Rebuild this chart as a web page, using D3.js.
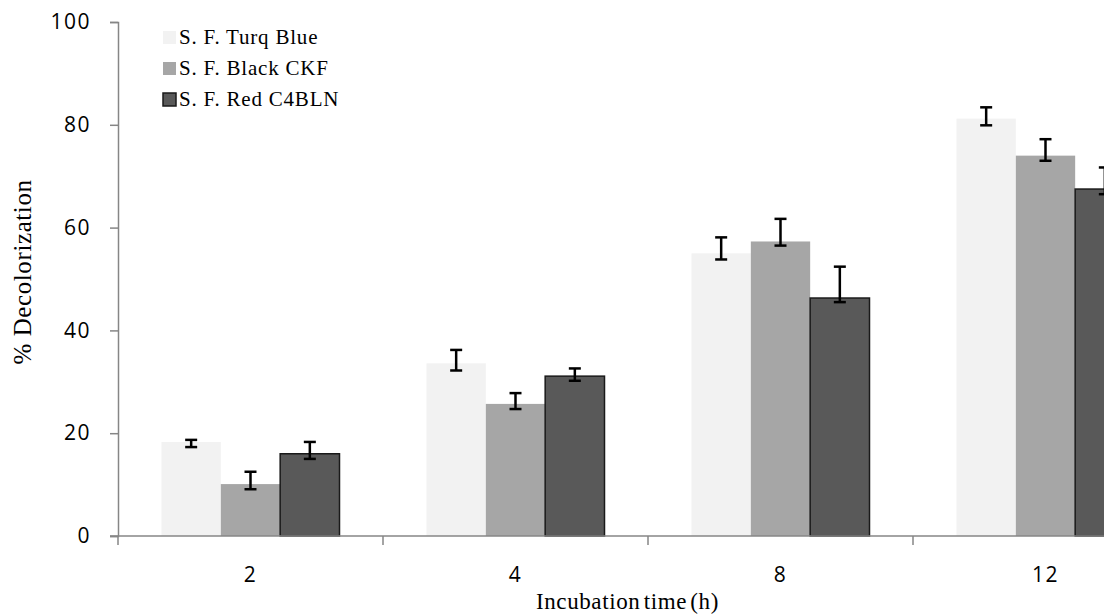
<!DOCTYPE html>
<html>
<head>
<meta charset="utf-8">
<script src="https://cdn.jsdelivr.net/npm/d3@7"></script>
<style>
  body { margin: 0; background: #fff; }
  svg { display: block; }
</style>
</head>
<body>
<svg id="chart"></svg>
<script>
var categories = ["2", "4", "8", "12"];
var seriesNames = ["S. F. Turq Blue", "S. F. Black CKF", "S. F. Red C4BLN"];
var yTicks = [0, 20, 40, 60, 80, 100];

// bar heights (% decolorization)
var turqBlue = [18.3, 33.6, 55.0, 81.2];
var blackCKF = [10.1, 25.7, 57.3, 74.0];
var redC4BLN = [16.0, 31.1, 46.3, 67.5];

// error bar extents above / below the bar value
var turqBlueUp   = [0.4, 2.6, 3.1, 2.2];
var turqBlueDown = [1.0, 1.4, 1.2, 1.3];
var blackCKFUp   = [2.4, 2.1, 4.4, 3.2];
var blackCKFDown = [1.0, 1.0, 0.8, 1.0];
var redC4BLNUp   = [2.3, 1.5, 6.1, 4.2];
var redC4BLNDown = [1.0, 0.9, 0.8, 1.0];

var values = [turqBlue, blackCKF, redC4BLN];
var ups = [turqBlueUp, blackCKFUp, redC4BLNUp];
var downs = [turqBlueDown, blackCKFDown, redC4BLNDown];
var fills = ["#f2f2f2", "#a6a6a6", "#595959"];

var width = 1104, height = 616;
var axisColor = "#868686";
var serif = "'Liberation Serif', 'Times New Roman', serif";
var sans = "'Open Sans', sans-serif";

var svg = d3.select("#chart")
  .attr("width", width)
  .attr("height", height);

var x0 = d3.scaleBand().domain(categories).range([118, 118 + 265 * 4]);
var x1 = d3.scaleBand().domain(d3.range(3)).range([0, 178]);
var groupOffset = (x0.bandwidth() - 178) / 2;
var y = d3.scaleLinear().domain([0, 100]).range([536, 22]);

// bars
var rows = [];
categories.forEach(function(c, i) {
  values.forEach(function(s, k) {
    rows.push({cat: c, k: k, v: s[i], up: ups[k][i], down: downs[k][i]});
  });
});

svg.selectAll("rect.bar")
  .data(rows)
  .enter()
  .append("rect")
  .attr("class", "bar")
  .attr("x", function(d) { return x0(d.cat) + groupOffset + x1(d.k); })
  .attr("width", x1.bandwidth())
  .attr("y", function(d) { return y(d.v); })
  .attr("height", function(d) { return y(0) - y(d.v); })
  .attr("fill", function(d) { return fills[d.k]; })
  .attr("stroke", function(d) { return d.k == 2 ? "#1a1a1a" : "none"; })
  .attr("stroke-width", 1.5);

// y axis
svg.append("g")
  .attr("transform", "translate(118,0)")
  .call(d3.axisLeft(y).tickValues(yTicks).tickSize(8).tickPadding(19))
  .call(function(g) {
    g.select(".domain").attr("stroke", axisColor).attr("stroke-width", 1.5);
    g.selectAll(".tick line").attr("stroke", axisColor).attr("stroke-width", 1.5);
    g.selectAll("text")
      .attr("fill", "#000")
      .attr("font-family", sans)
      .attr("font-size", 21)
      .attr("letter-spacing", 1.5);
  });

// x axis
var xTickPos = d3.range(5).map(function(i) { return 118 + 265 * i; });
svg.append("line")
  .attr("x1", 110).attr("x2", 118 + 265 * 4)
  .attr("y1", y(0)).attr("y2", y(0))
  .attr("stroke", axisColor).attr("stroke-width", 1.5);
svg.selectAll("line.xtick")
  .data(xTickPos)
  .enter()
  .append("line")
  .attr("class", "xtick")
  .attr("x1", function(d) { return d; }).attr("x2", function(d) { return d; })
  .attr("y1", y(0)).attr("y2", y(0) + 9)
  .attr("stroke", axisColor).attr("stroke-width", 1.5);
svg.selectAll("text.xlab")
  .data(categories)
  .enter()
  .append("text")
  .attr("class", "xlab")
  .attr("x", function(d) { return x0(d) + x0.bandwidth() / 2; })
  .attr("y", 582)
  .attr("text-anchor", "middle")
  .attr("font-family", sans)
  .attr("font-size", 21)
  .attr("letter-spacing", 1.5)
  .text(function(d) { return d; });

// error bars
var err = svg.selectAll("g.err")
  .data(rows)
  .enter()
  .append("g")
  .attr("class", "err")
  .attr("stroke", "#000")
  .attr("stroke-width", 2.5);
function cx(d) { return x0(d.cat) + groupOffset + x1(d.k) + x1.bandwidth() / 2; }
err.append("line")
  .attr("x1", cx).attr("x2", cx)
  .attr("y1", function(d) { return y(d.v + d.up); })
  .attr("y2", function(d) { return y(d.v - d.down); });
err.append("line")
  .attr("x1", function(d) { return cx(d) - 6; }).attr("x2", function(d) { return cx(d) + 6; })
  .attr("y1", function(d) { return y(d.v + d.up); })
  .attr("y2", function(d) { return y(d.v + d.up); });
err.append("line")
  .attr("x1", function(d) { return cx(d) - 6; }).attr("x2", function(d) { return cx(d) + 6; })
  .attr("y1", function(d) { return y(d.v - d.down); })
  .attr("y2", function(d) { return y(d.v - d.down); });

// axis titles
svg.append("text")
  .attr("x", 536)
  .attr("y", 609)
  .attr("font-family", serif)
  .attr("font-size", 23)
  .attr("letter-spacing", 0.6)
  .attr("word-spacing", -3)
  .text("Incubation time (h)");

svg.append("text")
  .attr("transform", "translate(31,272) rotate(-90)")
  .attr("text-anchor", "middle")
  .attr("font-family", serif)
  .attr("font-size", 25)
  .attr("letter-spacing", 0.6)
  .text("% Decolorization");

// legend
var legend = svg.selectAll("g.legend")
  .data(seriesNames)
  .enter()
  .append("g")
  .attr("class", "legend")
  .attr("transform", function(d, i) { return "translate(163," + (37 + i * 31) + ")"; });
legend.append("rect")
  .attr("x", 0).attr("y", -6)
  .attr("width", 13).attr("height", 13)
  .attr("fill", function(d, i) { return fills[i]; })
  .attr("stroke", function(d, i) { return i == 2 ? "#1a1a1a" : "none"; })
  .attr("stroke-width", 1.5);
legend.append("text")
  .attr("x", 16)
  .attr("y", 7)
  .attr("font-family", serif)
  .attr("font-size", 21)
  .attr("letter-spacing", 0.8)
  .text(function(d) { return d; });
</script>
</body>
</html>
